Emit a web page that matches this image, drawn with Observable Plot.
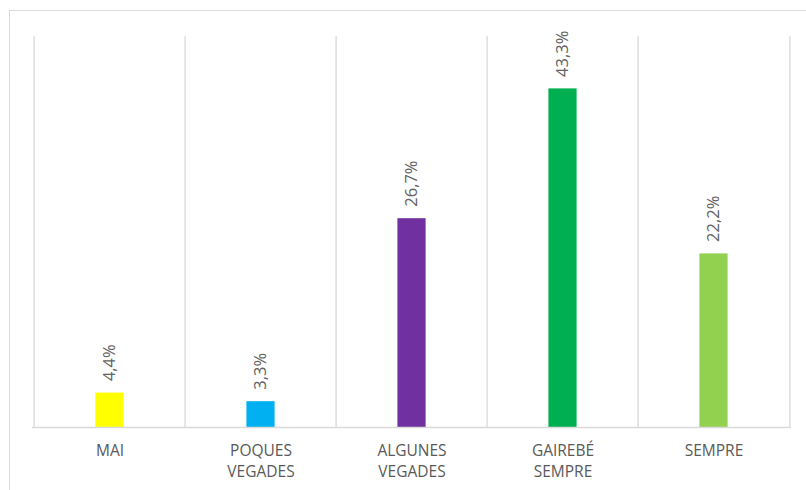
<!DOCTYPE html>
<html>
<head>
<meta charset="utf-8">
<script src="https://cdn.jsdelivr.net/npm/d3@7"></script>
<script src="https://cdn.jsdelivr.net/npm/@observablehq/plot@0.6"></script>
<style>
  html, body { margin: 0; padding: 0; background: #fff; overflow: hidden; }
  #wrap { position: relative; width: 806px; height: 490px; overflow: hidden; }
  #border { position: absolute; left: 9px; top: 10px; width: 900px; height: 600px;
            border: 1.5px solid #d9d9d9; box-sizing: border-box; pointer-events: none; }
  #chart { position: absolute; left: 0; top: 0; }
</style>
</head>
<body>
<div id="wrap"><div id="chart"></div><div id="border"></div></div>
<script>
const categories = ["MAI", "POQUES VEGADES", "ALGUNES VEGADES", "GAIREBÉ SEMPRE", "SEMPRE"];
const tickLabels = ["MAI", "POQUES\nVEGADES", "ALGUNES\nVEGADES", "GAIREBÉ\nSEMPRE", "SEMPRE"];
const values = [4.4, 3.3, 26.7, 43.3, 22.2];
const valueLabels = ["4,4%", "3,3%", "26,7%", "43,3%", "22,2%"];
const colors = ["#FFFF00", "#00B0F0", "#7030A0", "#00B050", "#92D050"];

const data = categories.map((c, i) => ({cat: c, value: values[i], label: valueLabels[i], color: colors[i]}));

const W = 806, H = 490;
const mL = 32, mR = 15, mT = 36, mB = 63;
const step = (W - mL - mR) / categories.length;
const barW = 29;
const inset = (step - barW) / 2;

const chart = Plot.plot({
  width: W,
  height: H,
  marginLeft: mL,
  marginRight: mR,
  marginTop: mT,
  marginBottom: mB,
  style: {fontFamily: "'Open Sans', sans-serif", background: "transparent"},
  x: {domain: categories, padding: 0, axis: null},
  y: {domain: [0, 50], axis: null},
  marks: [
    Plot.ruleX(categories, {x: d => d, dx: -step / 2, stroke: "#d9d9d9", strokeWidth: 1.3}),
    Plot.ruleX([categories[categories.length - 1]], {x: d => d, dx: step / 2, stroke: "#d9d9d9", strokeWidth: 1.3}),
    Plot.barY(data, {x: "cat", y: "value", fill: d => d.color, insetLeft: inset, insetRight: inset}),
    Plot.ruleY([0], {stroke: "#d9d9d9", strokeWidth: 1.3}),
    Plot.text(data, {x: "cat", y: "value", text: "label", rotate: -90, textAnchor: "start",
      dy: -12, fill: "#636363", fontSize: 16.5}),
    Plot.axisX({domain: categories, tickSize: 0, tickPadding: 14, fontSize: 15.5, lineHeight: 1.35,
      tickFormat: (d, i) => tickLabels[categories.indexOf(d)], color: "#595959", label: null})
  ]
});
document.getElementById("chart").appendChild(chart);
</script>
</body>
</html>
